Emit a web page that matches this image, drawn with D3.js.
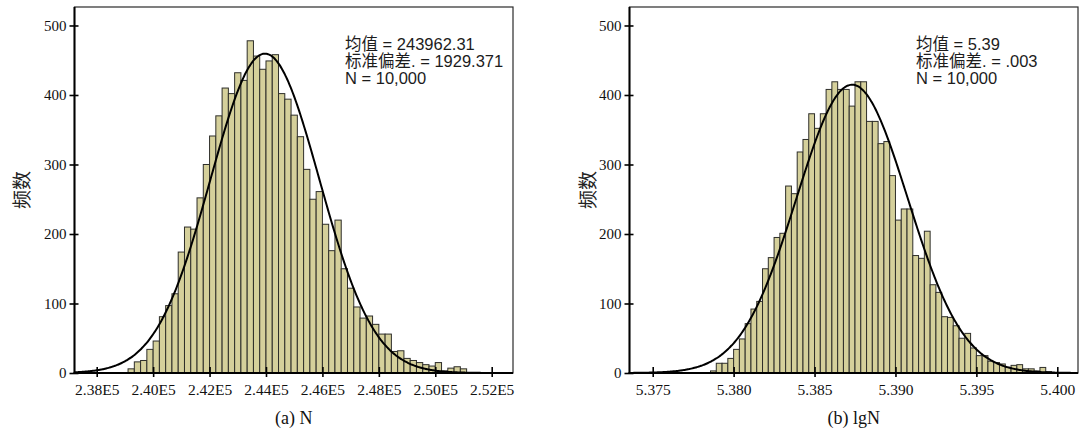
<!DOCTYPE html>
<html>
<head>
<meta charset="utf-8">
<script src="https://cdn.jsdelivr.net/npm/d3@7"></script>
<style>
  body { margin: 0; background: #fff; }
  svg { display: block; }
</style>
</head>
<body>
<svg id="fig" width="1081" height="434"></svg>
<script>
// ---- panel (a): N ----
const binStartN = 239111.11;          // left edge of the first bin
const binWidthN = 222.222;            // bin width
const countsN = [6, 16, 18, 34, 46, 81, 97, 114, 174, 210, 207, 252, 300, 341, 370,
  410, 402, 432, 421, 478, 456, 437, 449, 458, 402, 394, 371, 340, 293, 250,
  261, 214, 176, 220, 150, 122, 95, 79, 82, 70, 56, 56, 31, 32, 21,
  18, 15, 12, 10, 15, 3, 7, 9, 6];
const meanN = 243962.31;
const sdN = 1929.371;
const totalN = 10000;
const xDomainN = [237213, 252755];
const xTicksN = [238000, 240000, 242000, 244000, 246000, 248000, 250000, 252000];
const xTickLabelsN = ["2.38E5", "2.40E5", "2.42E5", "2.44E5", "2.46E5", "2.48E5", "2.50E5", "2.52E5"];
const statsN = ["均值 = 243962.31", "标准偏差. = 1929.371", "N = 10,000"];

// ---- panel (b): lgN ----
const binStartLg = 5.378571;
const binWidthLg = 0.000357143;
const countsLg = [3, 14, 14, 21, 34, 49, 71, 92, 103, 150, 166, 195, 201, 269, 258,
  318, 336, 373, 352, 373, 408, 419, 408, 408, 384, 419, 419, 362, 362, 330,
  333, 284, 220, 236, 236, 169, 165, 204, 127, 116, 81, 80, 68, 50, 57,
  36, 25, 25, 17, 15, 13, 8, 11, 12, 6, 6, 3, 8, 2];
const meanLg = 5.38732;
const sdLg = 0.003435;
const totalLg = 10000;
const xDomainLg = [5.373566, 5.401279];
const xTicksLg = [5.375, 5.380, 5.385, 5.390, 5.395, 5.400];
const xTickLabelsLg = ["5.375", "5.380", "5.385", "5.390", "5.395", "5.400"];
const statsLg = ["均值 = 5.39", "标准偏差. = .003", "N = 10,000"];

// ---- shared ----
const yTicks = [0, 100, 200, 300, 400, 500];
const yDomain = [0, 526.6];
const yTitle = "频数";

const svg = d3.select("#fig");
const serif = "'Liberation Serif', 'Times New Roman', serif";
const sans = "'Liberation Sans', Arial, 'Noto Sans CJK SC', sans-serif";
const cjk = "'Noto Sans CJK SC', sans-serif";

function panel(opt) {
  const { left, right, top, bottom } = opt.box;
  const x = d3.scaleLinear().domain(opt.xDomain).range([left, right]);
  const y = d3.scaleLinear().domain(yDomain).range([bottom, top]);
  const g = svg.append("g");

  const clipId = "clip-" + opt.id;
  svg.append("clipPath").attr("id", clipId)
    .append("rect").attr("x", left).attr("y", top)
    .attr("width", right - left).attr("height", bottom - top);

  // frame
  g.append("rect")
    .attr("x", left).attr("y", top)
    .attr("width", right - left).attr("height", bottom - top)
    .attr("fill", "none").attr("stroke", "#2a2a2a").attr("stroke-width", 1.2);

  // histogram bars
  const bins = opt.counts.map((c, i) => ({
    x0: opt.binStart + i * opt.binWidth,
    x1: opt.binStart + (i + 1) * opt.binWidth,
    c
  })).filter(d => d.c > 0);

  g.append("g").attr("clip-path", `url(#${clipId})`)
    .selectAll("rect").data(bins).join("rect")
    .attr("x", d => x(d.x0))
    .attr("width", d => x(d.x1) - x(d.x0))
    .attr("y", d => y(d.c))
    .attr("height", d => y(0) - y(d.c))
    .attr("fill", "#d5d09b")
    .attr("stroke", "#2e2e2a")
    .attr("stroke-width", 1);

  // fitted normal curve
  const scaleK = opt.total * opt.binWidth / (opt.sd * Math.sqrt(2 * Math.PI));
  const pts = d3.range(0, 401).map(i => {
    const v = opt.xDomain[0] + (opt.xDomain[1] - opt.xDomain[0]) * i / 400;
    const z = (v - opt.mean) / opt.sd;
    return [v, scaleK * Math.exp(-0.5 * z * z)];
  });
  g.append("path")
    .attr("clip-path", `url(#${clipId})`)
    .attr("d", d3.line().x(d => x(d[0])).y(d => y(d[1])).curve(d3.curveBasis)(pts))
    .attr("fill", "none").attr("stroke", "#000").attr("stroke-width", 2);

  // y axis
  const ya = g.append("g").attr("transform", `translate(${left},0)`)
    .call(d3.axisLeft(y).tickValues(yTicks).tickFormat(d3.format("d")).tickSize(5).tickPadding(3));
  ya.select(".domain").remove();
  ya.selectAll(".tick line").attr("x1", -5).attr("x2", 4).attr("stroke", "#000").attr("stroke-width", 1.6);
  ya.selectAll(".tick text")
    .attr("font-family", serif).attr("font-size", 15).attr("fill", "#111")
    .attr("x", -8);
  g.append("line")
    .attr("x1", left).attr("x2", left).attr("y1", top).attr("y2", bottom + 1)
    .attr("stroke", "#000").attr("stroke-width", 2);

  // x axis
  const xa = g.append("g").attr("transform", `translate(0,${bottom})`)
    .call(d3.axisBottom(x).tickValues(opt.xTicks)
      .tickFormat((d, i) => opt.xTickLabels[i]).tickSize(4).tickPadding(4));
  xa.select(".domain").remove();
  xa.selectAll(".tick line").attr("y1", -6).attr("y2", 4).attr("stroke", "#000").attr("stroke-width", 1.6);
  xa.selectAll(".tick text")
    .attr("font-family", serif).attr("font-size", 15.5).attr("fill", "#111")
    .attr("dy", null).attr("y", 22);
  g.append("line")
    .attr("x1", left - 1).attr("x2", right).attr("y1", bottom).attr("y2", bottom)
    .attr("stroke", "#000").attr("stroke-width", 2);

  // y title
  g.append("text")
    .attr("transform", `translate(${opt.yTitleX},${(top + bottom) / 2}) rotate(-90)`)
    .attr("text-anchor", "middle").attr("dominant-baseline", "central")
    .attr("font-family", cjk).attr("font-size", 19).attr("fill", "#222")
    .text(yTitle);

  // statistics block
  g.append("g").selectAll("text").data(opt.stats).join("text")
    .attr("x", opt.statsX)
    .attr("y", (d, i) => 50 + i * 17)
    .attr("font-family", sans).attr("font-size", 16.5).attr("fill", "#1c1c1c")
    .text(d => d);

  // caption
  g.append("text")
    .attr("x", (left + right) / 2).attr("y", 424)
    .attr("text-anchor", "middle")
    .attr("font-family", serif).attr("font-size", 18).attr("fill", "#111")
    .text(opt.caption);
}

panel({
  id: "a", box: { left: 74.5, right: 513, top: 7, bottom: 373 },
  xDomain: xDomainN, xTicks: xTicksN, xTickLabels: xTickLabelsN,
  binStart: binStartN, binWidth: binWidthN, counts: countsN,
  mean: meanN, sd: sdN, total: totalN,
  stats: statsN, statsX: 345, yTitleX: 20, caption: "(a) N"
});

panel({
  id: "b", box: { left: 629.5, right: 1078, top: 7, bottom: 373 },
  xDomain: xDomainLg, xTicks: xTicksLg, xTickLabels: xTickLabelsLg,
  binStart: binStartLg, binWidth: binWidthLg, counts: countsLg,
  mean: meanLg, sd: sdLg, total: totalLg,
  stats: statsLg, statsX: 916, yTitleX: 586, caption: "(b) lgN"
});
</script>
</body>
</html>
